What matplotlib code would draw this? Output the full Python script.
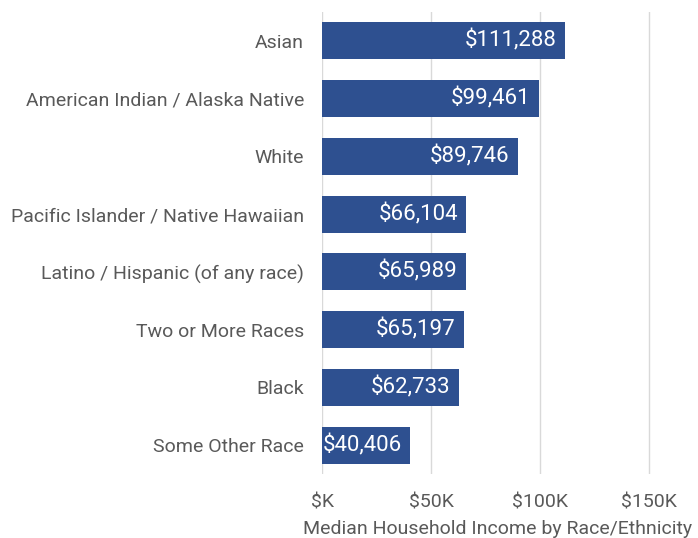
import numpy as np
import matplotlib.pyplot as plt
from matplotlib.ticker import FuncFormatter

plt.rcParams['font.family'] = ['Roboto', 'DejaVu Sans']

categories = ["Asian", "American Indian / Alaska Native", "White",
              "Pacific Islander / Native Hawaiian",
              "Latino / Hispanic (of any race)", "Two or More Races",
              "Black", "Some Other Race"]
income = [111288, 99461, 89746, 66104, 65989, 65197, 62733, 40406]
xticks = [0, 50000, 100000, 150000]

bar_color = '#2E5090'
text_color = '#595959'

fig = plt.figure(figsize=(6.98, 5.38), dpi=100)
ax = fig.add_axes([322/698, 1 - 474/538, (674-322)/698, (474-12)/538])

y = np.arange(len(categories))
ax.barh(y, income, height=0.64, color=bar_color, zorder=3)
for yi, v in zip(y, income):
    ax.text(v - 3800, yi, '${:,}'.format(v), color='white', fontsize=16,
            ha='right', va='center', zorder=4)

ax.set_yticks(y)
ax.set_yticklabels(categories, fontsize=14, color=text_color)
ax.set_ylim(len(categories) - 0.5, -0.5)
ax.set_xlim(0, 161500)
ax.set_xticks(xticks)
ax.xaxis.set_major_formatter(FuncFormatter(
    lambda v, p: '$K' if v == 0 else '${:d}K'.format(int(v / 1000))))
ax.tick_params(axis='x', labelsize=14, colors=text_color, length=0, pad=14)
ax.tick_params(axis='y', length=0, pad=13)
ax.grid(axis='x', color='#D9D9D9', linewidth=1, zorder=0)
for s in ax.spines.values():
    s.set_visible(False)
ax.set_xlabel('Median Household Income by Race/Ethnicity', fontsize=14,
              color=text_color, labelpad=6)

fig.savefig('out.png', dpi=100)
